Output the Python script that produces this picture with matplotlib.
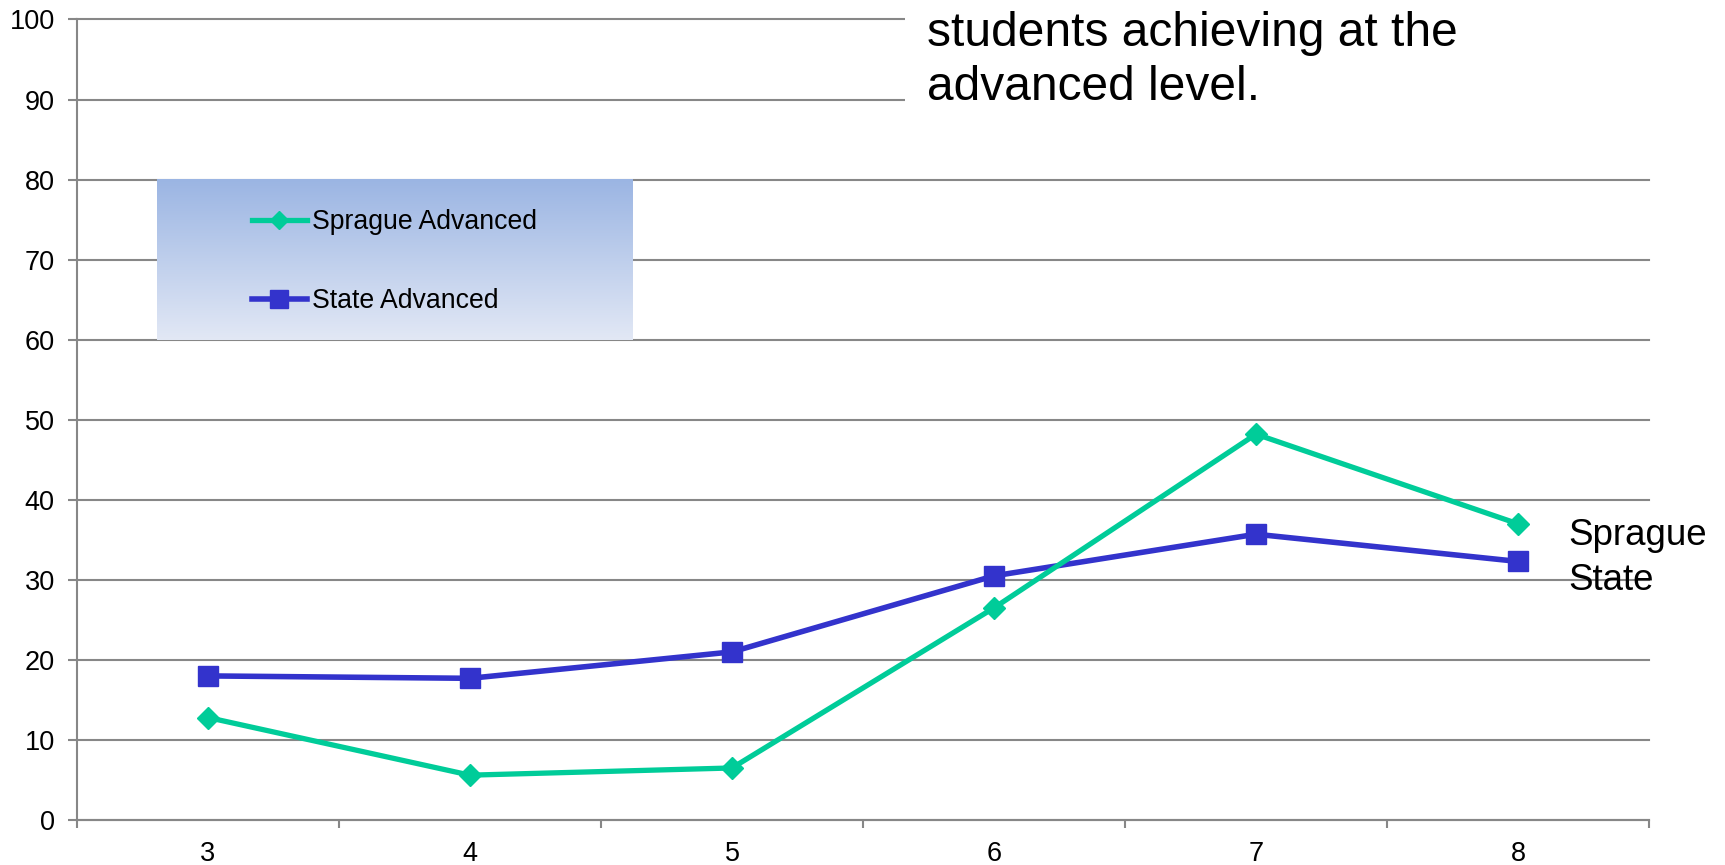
import numpy as np
import matplotlib
matplotlib.use("Agg")
import matplotlib.pyplot as plt
from matplotlib.patches import Rectangle

plt.rcParams['font.family'] = ['Liberation Sans', 'DejaVu Sans']

grades = ["3", "4", "5", "6", "7", "8"]
sprague_adv = [12.8, 5.6, 6.5, 26.5, 48.2, 37.0]
state_adv = [18.0, 17.7, 21.0, 30.5, 35.7, 32.3]
y_ticks = [0, 10, 20, 30, 40, 50, 60, 70, 80, 90, 100]
series_names = ["Sprague Advanced", "State Advanced"]
side_labels = ["Sprague", "State"]
text_lines = ["students achieving at the", "advanced level."]

GREEN = "#00CC99"
BLUE = "#3333CC"
GRID = "#878787"

W, H = 1725, 865
fig = plt.figure(figsize=(W / 100, H / 100), dpi=100)
ax = fig.add_axes([77 / W, 1 - 820 / H, (1649 - 77) / W, (820 - 19.5) / H])

x = np.arange(len(grades))
ax.plot(x, state_adv, color=BLUE, lw=4.0, marker='s', ms=14.5, zorder=4,
        label=series_names[1])
ax.plot(x, sprague_adv, color=GREEN, lw=3.8, marker='D', ms=11, zorder=5,
        label=series_names[0])

ax.set_xlim(-0.5, len(grades) - 0.5)
ax.set_ylim(0, 100)
ax.set_yticks(y_ticks)
ax.set_yticklabels([str(v) for v in y_ticks], fontsize=19.5)
ax.set_xticks(x)
ax.set_xticklabels(grades, fontsize=19.5)
ax.set_xticks(np.arange(len(grades) + 1) - 0.5, minor=True)
ax.tick_params(axis='x', which='major', length=0, pad=15)
ax.tick_params(axis='x', which='minor', length=6, width=1.5, color=GRID)
ax.tick_params(axis='y', length=6.5, width=1.5, color=GRID, pad=9.5)

ax.grid(axis='y', color=GRID, lw=1.5, zorder=1)
ax.set_axisbelow(True)
for gl in ax.get_ygridlines():
    gl.set_clip_on(False)
for s in ['top', 'right']:
    ax.spines[s].set_visible(False)
for s in ['left', 'bottom']:
    ax.spines[s].set_color(GRID)
    ax.spines[s].set_linewidth(1.5)

# legend gradient box
top_c = np.array([155, 181, 227]) / 255
bot_c = np.array([226, 232, 245]) / 255
t = np.linspace(0, 1, 256)[:, None]
grad = (top_c[None, :] * (1 - t) + bot_c[None, :] * t)[:, None, :]
lx0 = (157 - 77) / 1572
lx1 = (633 - 77) / 1572
ax.imshow(grad, extent=(lx0, lx1, 0.6, 0.8), transform=ax.transAxes,
          aspect='auto', zorder=2, origin='upper')
ax.set_xlim(-0.5, len(grades) - 0.5)
ax.set_ylim(0, 100)

handles, labels = ax.get_legend_handles_labels()
leg = ax.legend(handles[::-1], labels[::-1], loc='upper left',
                bbox_to_anchor=(252 / W, 1 - 209 / H), bbox_transform=fig.transFigure,
                frameon=False, fontsize=19.2, handlelength=2.05, handletextpad=0.2,
                labelspacing=2.0, borderpad=0, borderaxespad=0, markerscale=0.85)
leg.set_zorder(6)

# white text box at top right
fig.patches.append(Rectangle((905 / W, 1 - 125 / H), 1 - 905 / W, 125 / H,
                             transform=fig.transFigure, facecolor='white',
                             edgecolor='none', zorder=3))
fig.text(927 / W, 1 - 46 / H, text_lines[0], fontsize=34.5, va='baseline', ha='left', zorder=4)
fig.text(927 / W, 1 - 100 / H, text_lines[1], fontsize=34.5, va='baseline', ha='left', zorder=4)

fig.text(1568 / W, 1 - 545 / H, side_labels[0], fontsize=26.5, va='baseline', ha='left')
fig.text(1568 / W, 1 - 590 / H, side_labels[1], fontsize=26.5, va='baseline', ha='left')

fig.savefig("out.png", dpi=100)
